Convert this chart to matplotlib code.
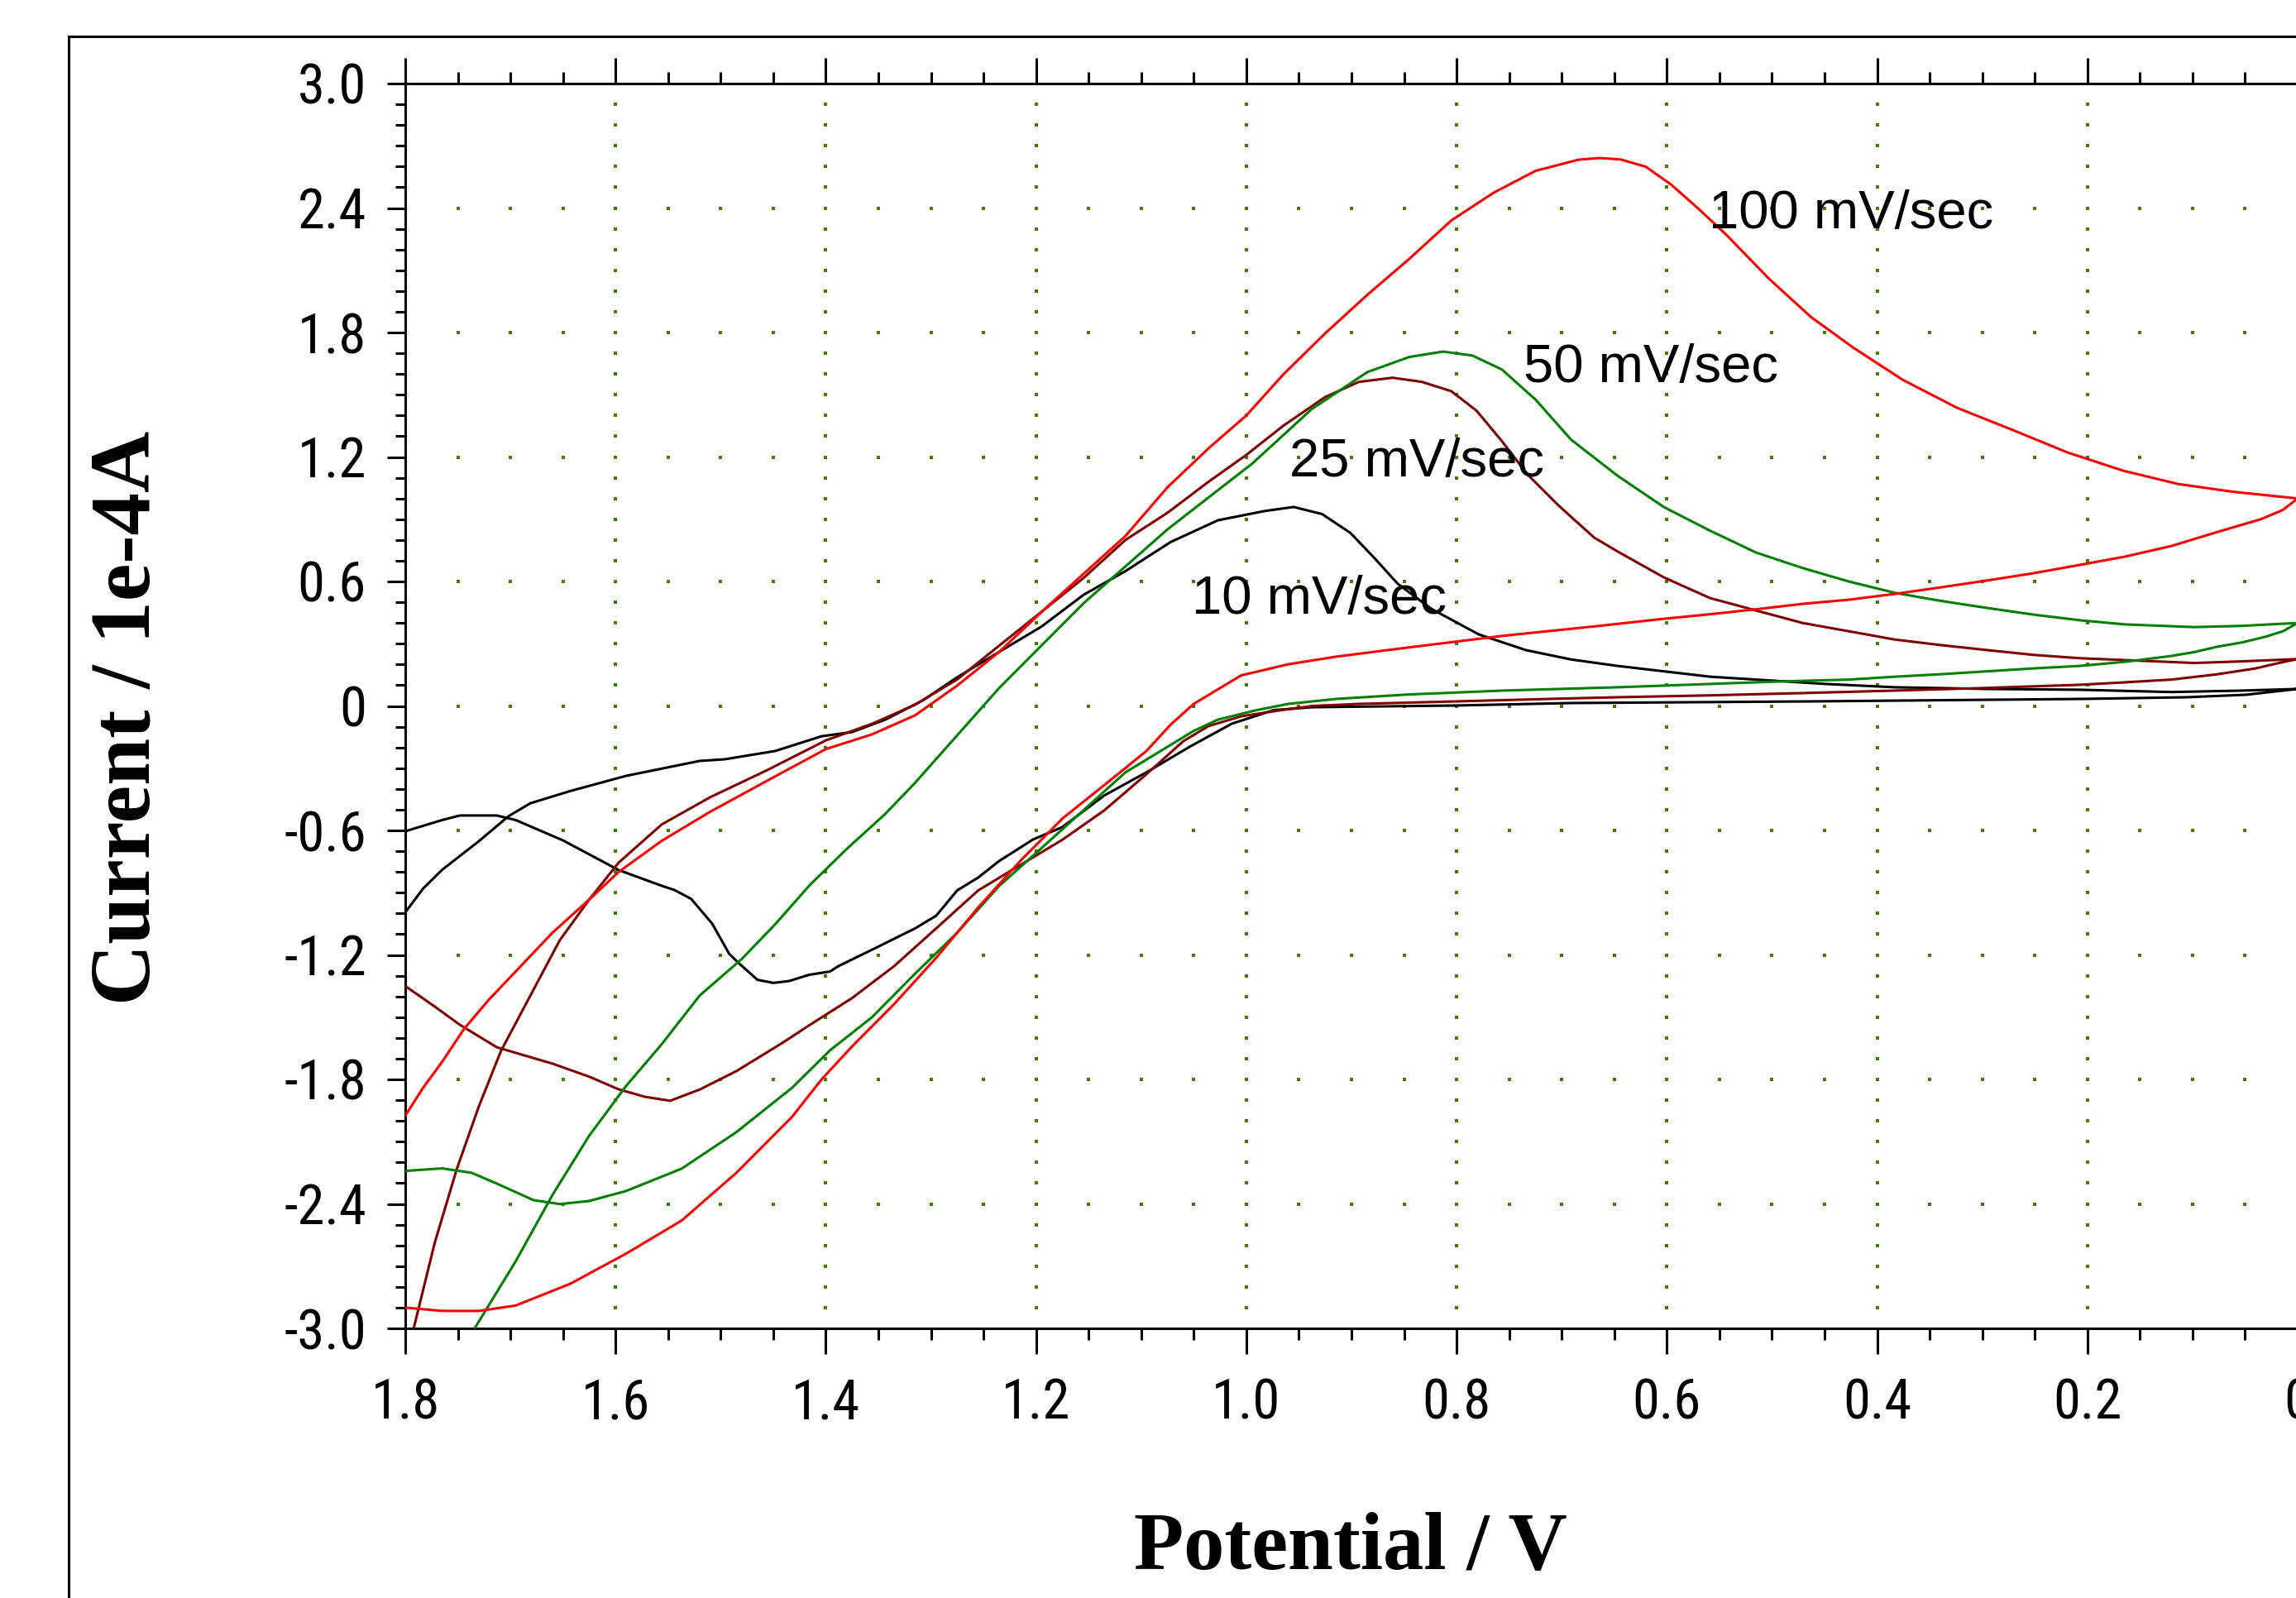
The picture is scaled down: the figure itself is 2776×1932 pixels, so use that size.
import numpy as np
import matplotlib.pyplot as plt
from matplotlib import font_manager as fm
from matplotlib.lines import Line2D

# cyclic voltammograms, potential in V and current in 1e-4 A
pot_10 = [1.8, 1.765, 1.748, 1.713, 1.695, 1.65, 1.597, 1.556, 1.544, 1.528, 1.508, 1.492, 1.484,
          1.465, 1.45, 1.435, 1.416, 1.396, 1.388, 1.35, 1.315, 1.295, 1.275, 1.255, 1.235, 1.203,
          1.175, 1.135, 1.095, 1.054, 1.014, 0.974, 0.937, 0.802, 0.691, 0.462, 0.203, 0.106, 0.049,
          0.0,
          0.053, 0.12, 0.207, 0.295, 0.383, 0.449, 0.515, 0.559, 0.603, 0.647, 0.691, 0.734, 0.779,
          0.824, 0.856, 0.878, 0.901, 0.928, 0.955, 0.982, 1.027, 1.072, 1.115, 1.155, 1.195, 1.235,
          1.275, 1.308, 1.343, 1.375, 1.404, 1.448, 1.496, 1.52, 1.59, 1.643, 1.681, 1.702, 1.73,
          1.765, 1.783, 1.8]
cur_10 = [-0.604, -0.55, -0.528, -0.528, -0.55, -0.648, -0.791, -0.867, -0.887, -0.93, -1.05, -1.194,
          -1.234, -1.32, -1.335, -1.326, -1.296, -1.28, -1.254, -1.16, -1.072, -1.011, -0.889, -0.827,
          -0.747, -0.644, -0.584, -0.431, -0.32, -0.197, -0.086, -0.02, -0.006, 0.002, 0.014, 0.022,
          0.034, 0.042, 0.054,
          0.082,
          0.074, 0.067, 0.078, 0.082, 0.09, 0.106, 0.127, 0.141, 0.167, 0.193, 0.224, 0.269, 0.345,
          0.468, 0.589, 0.712, 0.834, 0.925, 0.959, 0.94, 0.895, 0.79, 0.65, 0.535, 0.382, 0.261,
          0.138, 0.026, -0.065, -0.126, -0.146, -0.217, -0.257, -0.265, -0.337, -0.41, -0.469, -0.532,
          -0.652, -0.79, -0.88, -0.995]

pot_25 = [1.792, 1.772, 1.751, 1.73, 1.709, 1.681, 1.653, 1.625, 1.597, 1.556, 1.51, 1.456, 1.4,
          1.356, 1.315, 1.275, 1.235, 1.195, 1.155, 1.115, 1.075, 1.035, 1.0, 0.965, 0.925, 0.893,
          0.861, 0.833, 0.805, 0.781, 0.757, 0.733, 0.704, 0.691, 0.669, 0.647, 0.603, 0.559, 0.515,
          0.471, 0.427, 0.383, 0.339, 0.295, 0.251, 0.207, 0.164, 0.098, 0.053, 0.0,
          0.018, 0.04, 0.076, 0.12, 0.164, 0.207, 0.295, 0.383, 0.471, 0.559, 0.647, 0.711, 0.8,
          0.892, 0.937, 0.968, 1.005, 1.036, 1.06, 1.095, 1.135, 1.175, 1.215, 1.255, 1.295, 1.335,
          1.375, 1.416, 1.44, 1.485, 1.52, 1.548, 1.572, 1.597, 1.625, 1.66, 1.695, 1.713, 1.748,
          1.772, 1.8]
cur_25 = [-3.0, -2.588, -2.232, -1.93, -1.663, -1.396, -1.129, -0.933, -0.755, -0.571, -0.44, -0.31,
          -0.166, -0.086, 0.006, 0.128, 0.291, 0.453, 0.616, 0.8, 0.931, 1.084, 1.21, 1.35, 1.489,
          1.562, 1.582, 1.562, 1.517, 1.423, 1.277, 1.118, 0.971, 0.911, 0.811, 0.745, 0.62, 0.52,
          0.46, 0.4, 0.36, 0.32, 0.293, 0.269, 0.246, 0.23, 0.221, 0.207, 0.215, 0.226,
          0.207, 0.181, 0.153, 0.127, 0.114, 0.102, 0.087, 0.074, 0.062, 0.051, 0.042, 0.034, 0.022,
          0.01, 0.0, -0.021, -0.05, -0.097, -0.17, -0.329, -0.503, -0.645, -0.767, -0.889, -1.072,
          -1.254, -1.408, -1.54, -1.62, -1.76, -1.849, -1.903, -1.884, -1.848, -1.787, -1.724, -1.672,
          -1.645, -1.537, -1.449, -1.35]

pot_50 = [1.734, 1.695, 1.66, 1.625, 1.59, 1.556, 1.52, 1.48, 1.449, 1.415, 1.379, 1.344, 1.315,
          1.235, 1.155, 1.075, 0.994, 0.938, 0.885, 0.845, 0.813, 0.785, 0.757, 0.725, 0.691, 0.647,
          0.603, 0.559, 0.515, 0.471, 0.427, 0.383, 0.339, 0.295, 0.251, 0.207, 0.164, 0.098, 0.053,
          0.0,
          0.014, 0.031, 0.053, 0.076, 0.098, 0.12, 0.164, 0.207, 0.251, 0.295, 0.339, 0.383, 0.427,
          0.493, 0.581, 0.647, 0.756, 0.847, 0.914, 0.96, 0.991, 1.027, 1.05, 1.075, 1.115, 1.155,
          1.195, 1.235, 1.275, 1.315, 1.356, 1.396, 1.432, 1.485, 1.537, 1.59, 1.625, 1.653, 1.678,
          1.713, 1.737, 1.765, 1.8]
cur_50 = [-3.0, -2.677, -2.357, -2.071, -1.832, -1.63, -1.396, -1.22, -1.057, -0.862, -0.684, -0.523,
          -0.37, 0.087, 0.494, 0.851, 1.17, 1.43, 1.609, 1.682, 1.708, 1.689, 1.622, 1.477, 1.283,
          1.11, 0.959, 0.845, 0.739, 0.665, 0.6, 0.545, 0.506, 0.472, 0.44, 0.413, 0.393, 0.38,
          0.386, 0.4,
          0.36, 0.333, 0.306, 0.286, 0.26, 0.241, 0.213, 0.193, 0.181, 0.167, 0.153, 0.141, 0.127,
          0.118, 0.102, 0.09, 0.074, 0.055, 0.034, 0.01, -0.021, -0.066, -0.12, -0.197, -0.32,
          -0.503, -0.686, -0.867, -1.093, -1.29, -1.5, -1.66, -1.84, -2.054, -2.23, -2.338, -2.386,
          -2.401, -2.382, -2.302, -2.25, -2.229, -2.241]

pot_100 = [1.8, 1.765, 1.73, 1.695, 1.643, 1.59, 1.537, 1.485, 1.432, 1.404, 1.375, 1.335, 1.295,
           1.255, 1.215, 1.175, 1.135, 1.095, 1.072, 1.05, 1.005, 0.96, 0.914, 0.847, 0.756, 0.666,
           0.603, 0.559, 0.515, 0.471, 0.427, 0.383, 0.339, 0.295, 0.251, 0.207, 0.164, 0.12, 0.076,
           0.035, 0.014, 0.0,
           0.061, 0.114, 0.166, 0.219, 0.271, 0.324, 0.376, 0.423, 0.463, 0.503, 0.544, 0.572, 0.596,
           0.62, 0.644, 0.664, 0.684, 0.725, 0.765, 0.805, 0.845, 0.885, 0.925, 0.965, 1.0, 1.035,
           1.075, 1.115, 1.155, 1.195, 1.235, 1.275, 1.315, 1.356, 1.4, 1.452, 1.51, 1.556, 1.597,
           1.625, 1.66, 1.695, 1.72, 1.744, 1.765, 1.783, 1.8]
cur_100 = [-2.9, -2.916, -2.916, -2.89, -2.785, -2.64, -2.48, -2.25, -1.98, -1.8, -1.641, -1.437,
           -1.214, -0.971, -0.747, -0.543, -0.381, -0.217, -0.09, 0.01, 0.147, 0.201, 0.238, 0.281,
           0.338, 0.385, 0.42, 0.442, 0.466, 0.492, 0.512, 0.54, 0.572, 0.605, 0.64, 0.68, 0.72,
           0.771, 0.839, 0.9, 0.945, 1.0,
           1.032, 1.07, 1.134, 1.222, 1.33, 1.437, 1.573, 1.728, 1.875, 2.06, 2.274, 2.406, 2.513,
           2.599, 2.634, 2.641, 2.633, 2.579, 2.473, 2.34, 2.155, 1.981, 1.796, 1.597, 1.4, 1.246,
           1.054, 0.819, 0.636, 0.452, 0.261, 0.098, -0.045, -0.137, -0.208, -0.35, -0.51, -0.65,
           -0.8, -0.933, -1.093, -1.28, -1.413, -1.556, -1.716, -1.84, -1.975]

x_ticks = [1.8, 1.6, 1.4, 1.2, 1.0, 0.8, 0.6, 0.4, 0.2, 0.0]
x_labels = ["1.8", "1.6", "1.4", "1.2", "1.0", "0.8", "0.6", "0.4", "0.2", "0"]
y_ticks = [3.0, 2.4, 1.8, 1.2, 0.6, 0.0, -0.6, -1.2, -1.8, -2.4, -3.0]
y_labels = ["3.0", "2.4", "1.8", "1.2", "0.6", "0", "-0.6", "-1.2", "-1.8", "-2.4", "-3.0"]

# tick labels are in a narrow sans; use one if the box has it
tick_prop, tick_size = fm.FontProperties(family="Liberation Sans"), 42
names = {f.name: f for f in fm.fontManager.ttflist}
narrow = [f for f in fm.fontManager.ttflist
          if ("Narrow" in f.name or "Condensed" in f.name or f.stretch in ("condensed", "semi-condensed"))
          and f.style == "normal" and f.weight in (400, "normal", "regular")]
for pref in ["Liberation Sans Narrow", "Arial Narrow", "DejaVu Sans Condensed", "Roboto Condensed"]:
    if pref in names:
        tick_prop, tick_size = fm.FontProperties(family=pref), 48
        break
else:
    if narrow:
        tick_prop, tick_size = fm.FontProperties(fname=narrow[0].fname), 48

W, H = 2776, 1932
fig = plt.figure(figsize=(W / 100, H / 100), dpi=100)
ax = fig.add_axes([490 / W, (H - 1606) / H, 2288 / W, 1505 / H])

# dotted grid: dots at the minor steps along each major line
dot_col = "#3f8000"
x_minor = np.round(np.arange(0.05, 1.8, 0.05), 2)
y_minor = np.round(np.arange(-2.9, 2.95, 0.1), 1)
for yv in y_ticks[1:-1]:
    ax.plot(x_minor, np.full_like(x_minor, yv), ls="none", marker="s", ms=2.2,
            mew=0, color=dot_col, zorder=1)
for xv in x_ticks[1:-1]:
    ax.plot(np.full_like(y_minor, xv), y_minor, ls="none", marker="s", ms=2.2,
            mew=0, color=dot_col, zorder=1)

lw = 2.2
ax.plot(pot_10, cur_10, color="black", lw=lw, zorder=3)
ax.plot(pot_25, cur_25, color="#800000", lw=lw, zorder=3)
ax.plot(pot_50, cur_50, color="#008000", lw=lw, zorder=3)
ax.plot(pot_100, cur_100, color="#ff0000", lw=lw, zorder=3)

ax.set_xlim(1.8, 0.0)
ax.set_ylim(-3.0, 3.0)

ax.set_xticks(x_ticks)
ax.set_xticklabels(x_labels, fontproperties=tick_prop, fontsize=tick_size)
ax.set_yticks(y_ticks)
ax.set_yticklabels(y_labels, fontproperties=tick_prop, fontsize=tick_size)
ax.set_xticks(np.round(np.arange(0.05, 1.8, 0.05), 2), minor=True)
ax.set_yticks(np.round(np.arange(-2.9, 3.0, 0.1), 1), minor=True)

ax.tick_params(axis="x", which="both", direction="out", top=True, bottom=True,
               labeltop=False, width=2.2, pad=21)
ax.tick_params(axis="x", which="major", length=22)
ax.tick_params(axis="x", which="minor", length=10)
ax.tick_params(axis="y", which="both", direction="out", left=True, right=False,
               width=2.2, pad=18)
ax.tick_params(axis="y", which="major", length=16)
ax.tick_params(axis="y", which="minor", length=9)

for side in ["left", "bottom", "top"]:
    ax.spines[side].set_linewidth(2.2)
ax.spines["right"].set_visible(False)

ann_font = ["Liberation Sans", "DejaVu Sans"]
ax.text(0.560, 2.302, "100 mV/sec", family=ann_font, fontsize=47, va="baseline", ha="left", zorder=4)
ax.text(0.736, 1.561, "50 mV/sec", family=ann_font, fontsize=47, va="baseline", ha="left", zorder=4)
ax.text(0.959, 1.106, "25 mV/sec", family=ann_font, fontsize=47, va="baseline", ha="left", zorder=4)
ax.text(1.052, 0.445, "10 mV/sec", family=ann_font, fontsize=47, va="baseline", ha="left", zorder=4)

lab_font = ["Liberation Serif", "DejaVu Serif"]
fig.text(1633 / W, 1 - 1897 / H, "Potential / V", family=lab_font, fontweight="bold",
         fontsize=71, ha="center", va="baseline")
fig.text(156 / W, 1 - 868 / H, "Current / 1e-4A", family=lab_font, fontweight="bold",
         fontsize=74, rotation=90, ha="center", va="center")

# outer frame, running off the right and bottom edges
fx, fy = 83 / W, 1 - 44 / H
fig.add_artist(Line2D([fx, fx], [0, fy], transform=fig.transFigure, color="black", lw=2.2))
fig.add_artist(Line2D([fx, 1], [fy, fy], transform=fig.transFigure, color="black", lw=2.2))

fig.savefig("out.png", dpi=100, facecolor="white")
